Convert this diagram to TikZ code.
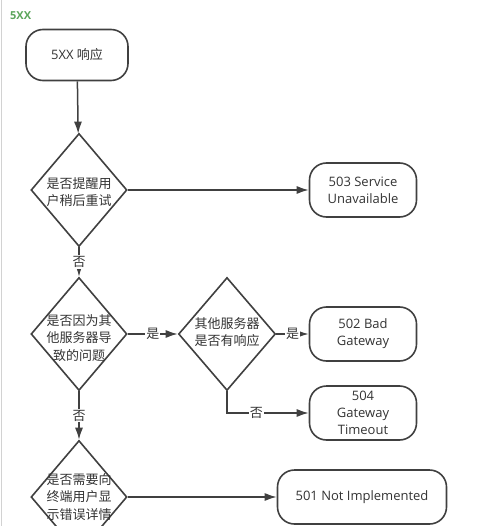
\documentclass[tikz,border=0pt]{standalone}
\usepackage{fontspec}
\setmainfont{Open Sans}
\newfontfamily\cjk{Noto Sans CJK SC}
\usetikzlibrary{shapes.geometric,arrows.meta,positioning,calc}
\definecolor{linegray}{HTML}{404040}
\definecolor{textgray}{HTML}{333333}
\definecolor{titlegreen}{HTML}{5BA55B}
\tikzstyle{Terminal} = [draw=linegray, line width=1.6pt, rectangle, rounded corners=17pt, minimum width=107pt, minimum height=54pt, align=center, text=textgray]
\tikzstyle{Decision} = [draw=linegray, line width=1.6pt, diamond, minimum width=96pt, minimum height=113pt, inner sep=0pt]
\tikzstyle{Question} = [font=\cjk\fontsize{13}{17.5}\selectfont, align=center, text=textgray, inner sep=0pt]
\tikzstyle{Arrow} = [-{Latex[length=12pt,width=8pt]}, line width=1.5pt, draw=linegray]
\tikzstyle{Plain} = [line width=1.5pt, draw=linegray]
\tikzstyle{Label} = [font=\cjk\fontsize{13}{15}\selectfont, fill=white, inner sep=1pt, text=textgray]

\begin{document}
\begin{tikzpicture}[x=1pt, y=-1pt]
        \tikzstyle{every node} = [font=\fontsize{13}{17}\selectfont]
        \useasboundingbox (0,0) rectangle (500,526);
        \clip (0,0) rectangle (500,526);
        \draw[gray!35, line width=1pt] (1.5,0) -- (1.5,526);

        %%%%% Title %%%%%%

        \node[anchor=west, text=titlegreen, font=\bfseries\fontsize{11}{13}\selectfont, inner sep=0pt] (T) at (10,16) {5XX};

        %%%%% Left Column %%%%%

        \draw node[Terminal, minimum width=102pt, minimum height=51pt] at (77,55) (A) {5XX {\cjk 响应}};
        \draw node[Decision] at ($(A) + (2,135)$) (B){};
        \node[Question] at ($(B) + (0,2)$) {是否提醒用\\户稍后重试};
        \draw node[Decision] at ($(B) + (0,144)$) (D){};
        \node[Question] at ($(D) + (0,4)$) {是否因为其\\他服务器导\\致的问题};
        \draw node[Decision] at ($(D) + (0,163)$) (H){};
        \node[Question] at (H) {是否需要向\\终端用户显\\示错误详情};

        %%%%% Right Side %%%%%

        \draw node[Terminal] at ($(B) + (284,0)$) (C) {503 Service\\Unavailable};
        \draw node[Decision, minimum width=97pt] at ($(D) + (148,0)$) (E){};
        \node[Question] at ($(E) + (0,-2)$) {其他服务器\\是否有响应};
        \draw node[Terminal] at ($(E) + (136,0)$) (F) {502 Bad\\Gateway};
        \draw node[Terminal] at ($(F) + (0,79)$) (G) {504\\Gateway\\Timeout};
        \draw node[Terminal, minimum width=169pt] at ($(H) + (283,0)$) (I) {501 Not Implemented};

        %%%%% Connecting Arrows %%%%%

        \draw [Arrow] (A) -- (B);
        \draw [Arrow] (B) -- (C);
        \draw [Arrow] (B) -- node[Label] {否} (D);
        \draw [Arrow] (D) -- node[Label] {是} (E);
        \draw [Arrow] (E) -- node[Label] {是} (F);
        \draw [Arrow] (E.south) |- node[Label, pos=0.68] {否} (G.west);
        \draw [Arrow] (D) -- node[Label] {否} (H);
        \draw [Arrow] (H) -- (I);

\end{tikzpicture}
\end{document}
